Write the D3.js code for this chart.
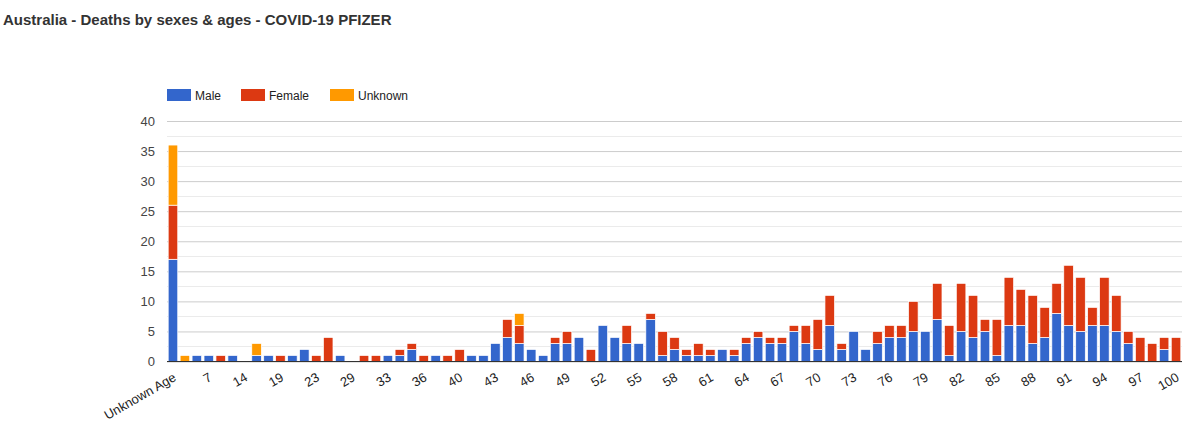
<!DOCTYPE html>
<html><head><meta charset="utf-8">
<script src="https://cdn.jsdelivr.net/npm/d3@7/dist/d3.min.js"></script>
<style>
html,body{margin:0;padding:0;background:#fff;}
svg{display:block;font-family:Arial,"Liberation Sans",Helvetica,sans-serif;}
</style></head><body>
<svg id="chart" width="1200" height="428"></svg>
<script>
const title = "Australia - Deaths by sexes & ages - COVID-19 PFIZER";
const categories = ["Unknown Age","2","5","7","9","12","14","16","17","19","20","21","23","24","26","29","31","32","33","34","35","36","37","39",
  "40","41","42","43","44","45","46","47","48","49","50","51","52","53","54","55","56","57","58","59","60",
  "61","62","63","64","65","66","67","68","69","70","71","72","73","74","75","76","77","78","79","80",
  "81","82","83","84","85","86","87","88","89","90","91","92","93","94","95","96","97","98","99","100"];
const male = [17,0,1,1,0,1,0,1,1,0,1,2,0,0,1,0,0,0,1,1,2,0,1,0,
  0,1,1,3,4,3,2,1,3,3,4,0,6,4,3,3,7,1,2,1,1,1,2,1,3,4,3,3,5,3,2,6,2,5,2,3,4,4,5,5,7,1,5,4,5,1,6,6,3,4,8,6,5,6,6,5,3,0,0,2,0];
const female = [9,0,0,0,1,0,0,0,0,1,0,0,1,4,0,0,1,1,0,1,1,1,0,1,
  2,0,0,0,3,3,0,0,1,2,0,2,0,0,3,0,1,4,2,1,2,1,0,1,1,1,1,1,1,3,5,5,1,0,0,2,2,2,5,0,6,5,8,7,2,6,8,6,8,5,5,10,9,3,8,6,2,4,3,2,4];
const unknown = [10,1,0,0,0,0,0,2,0,0,0,0,0,0,0,0,0,0,0,0,0,0,0,0,
  0,0,0,0,0,2,0,0,0,0,0,0,0,0,0,0,0,0,0,0,0,0,0,0,0,0,0,0,0,0,0,0,0,0,0,0,0,0,0,0,0,0,0,0,0,0,0,0,0,0,0,0,0,0,0,0,0,0,0,0,0];
const seriesNames = ["Male","Female","Unknown"];
const seriesColors = ["#3366cc","#dc3912","#ff9900"];
const yTicks = [0,5,10,15,20,25,30,35,40];

(function(){
const svg = d3.select("#chart");
const pL = 167, pR = 1182, pT = 121, pB = 361.5;

svg.append("text").attr("x",3).attr("y",25)
  .attr("font-size",15).attr("font-weight","bold").attr("fill","#333")
  .text(title);

const x = d3.scaleBand().domain(categories).range([pL,pR]).paddingInner(0.2).paddingOuter(0.1);
const y = d3.scaleLinear().domain([0,40]).range([pB,pT]);

const g = svg.append("g");
d3.range(2.5,40,5).forEach(v=>{
  g.append("line").attr("x1",pL).attr("x2",pR).attr("y1",Math.round(y(v))+0.5).attr("y2",Math.round(y(v))+0.5)
   .attr("stroke","#ebebeb").attr("stroke-width",1);
});
const yAxis = d3.axisLeft(y).tickValues(yTicks).tickSize(-(pR-pL)).tickPadding(12).tickFormat(d3.format("d"));
const ya = svg.append("g").attr("transform",`translate(${pL},0)`).call(yAxis);
ya.select(".domain").remove();
ya.selectAll(".tick line").attr("stroke","#cccccc");
ya.selectAll(".tick text").attr("font-size",13).attr("fill","#444").attr("font-family","Arial, 'Liberation Sans', sans-serif");

const table = categories.map((c,i)=>({cat:c, Male:male[i], Female:female[i], Unknown:unknown[i]}));
const stack = d3.stack().keys(seriesNames)(table);
const color = d3.scaleOrdinal().domain(seriesNames).range(seriesColors);

svg.append("g").selectAll("g").data(stack).join("g").attr("fill",d=>color(d.key))
  .selectAll("rect").data(d=>d.filter(p=>p[1]-p[0]>0)).join("rect")
  .attr("x",d=>x(d.data.cat)).attr("width",x.bandwidth())
  .attr("y",d=>y(d[1])).attr("height",d=>y(d[0])-y(d[1]))
  .attr("stroke","#ffffff").attr("stroke-width",0.7);

svg.append("line").attr("x1",pL).attr("x2",pR).attr("y1",pB).attr("y2",pB)
  .attr("stroke","#333").attr("stroke-width",1);

const xa = svg.append("g");
categories.forEach((c,i)=>{
  if(i%3!==0) return;
  const cx = x(c)+x.bandwidth()/2;
  xa.append("text").attr("transform",`translate(${cx+4},${380}) rotate(-30)`)
    .attr("text-anchor","end").attr("font-size",13).attr("fill","#222").text(c);
});

const legendX = [167,241,330];
seriesNames.forEach((s,i)=>{
  const lg = svg.append("g").attr("transform",`translate(${legendX[i]},89)`);
  lg.append("rect").attr("width",24).attr("height",12).attr("fill",seriesColors[i]);
  lg.append("text").attr("x",28).attr("y",10.5).attr("font-size",12).attr("fill","#222").text(s);
});
})();
</script>
</body></html>
